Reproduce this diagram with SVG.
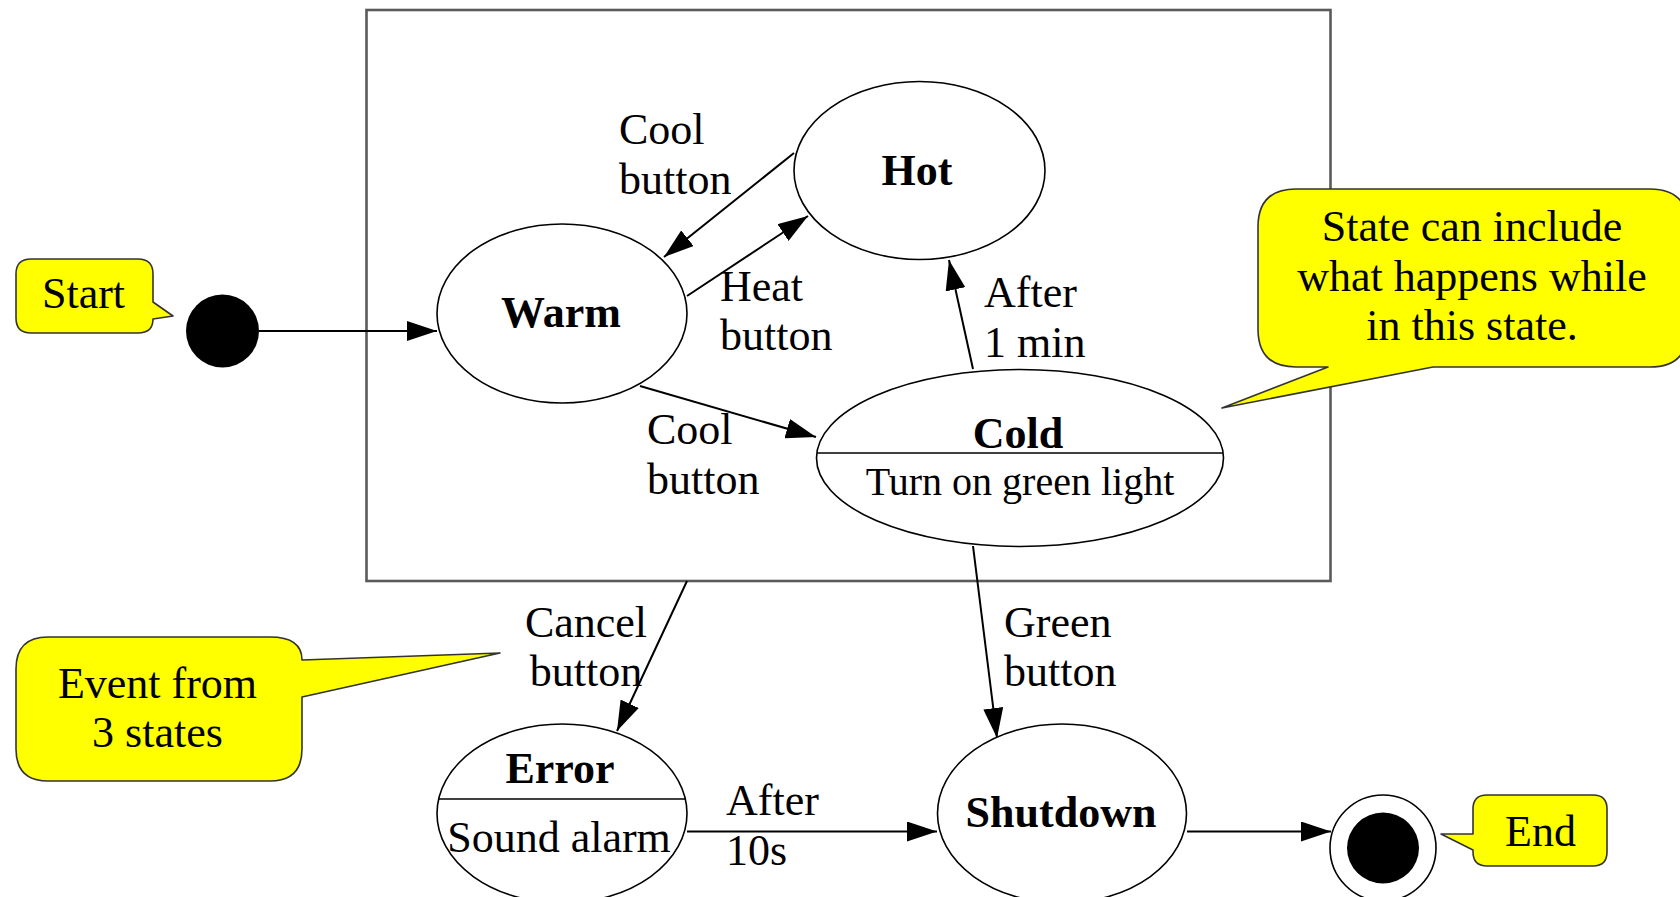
<svg xmlns="http://www.w3.org/2000/svg" width="1680" height="897" viewBox="0 0 1680 897">
  <style>
    .state { fill: #ffffff; stroke: #000000; stroke-width: 1.6; }
    .divider { stroke: #000000; stroke-width: 1.6; }
    .name { font-family: "Liberation Serif", "Times New Roman", serif; font-size: 44px; font-weight: bold; fill: #000000; text-anchor: middle; }
    .activity { font-family: "Liberation Serif", "Times New Roman", serif; font-size: 40px; fill: #000000; text-anchor: middle; }
    .label { font-family: "Liberation Serif", "Times New Roman", serif; font-size: 44px; fill: #000000; }
    .note { fill: #ffff00; stroke: #333333; stroke-width: 1.6; stroke-linejoin: round; }
    .note-text { font-family: "Liberation Serif", "Times New Roman", serif; font-size: 44px; fill: #000000; text-anchor: middle; }
    .edge { fill: none; stroke: #000000; stroke-width: 2; marker-end: url(#arrow); }
  </style>
  <defs>
    <marker id="arrow" markerUnits="userSpaceOnUse" markerWidth="30" markerHeight="20" refX="30" refY="10" orient="auto">
      <path d="M0,0 L30,10 L0,20 Z" fill="#000000"/>
    </marker>
  </defs>

  <rect width="1680" height="897" fill="#ffffff"/>

  <!-- composite state frame -->
  <g id="frame">
    <rect x="366.5" y="10" width="964" height="571" fill="none" stroke="#5a5a5a" stroke-width="2.6"/>
  </g>

  <!-- transitions -->
  <g id="connectors">
    <line class="edge" x1="259" y1="331" x2="437" y2="331"/>
    <line class="edge" x1="794" y1="153" x2="664" y2="257"/>
    <line class="edge" x1="687" y1="296" x2="808" y2="216"/>
    <line class="edge" x1="973" y1="369" x2="949" y2="260"/>
    <line class="edge" x1="640" y1="386" x2="816" y2="437"/>
    <line class="edge" x1="687" y1="581" x2="617" y2="731"/>
    <line class="edge" x1="973" y1="546" x2="997" y2="738"/>
    <line class="edge" x1="687" y1="831.5" x2="937" y2="831.5"/>
    <line class="edge" x1="1187" y1="831.5" x2="1331" y2="831.5"/>

    <text class="label" x="619" y="144">Cool</text>
    <text class="label" x="619" y="194">button</text>
    <text class="label" x="720" y="301">Heat</text>
    <text class="label" x="720" y="350">button</text>
    <text class="label" x="984" y="307">After</text>
    <text class="label" x="984" y="357">1 min</text>
    <text class="label" x="647" y="444">Cool</text>
    <text class="label" x="647" y="494">button</text>
    <text class="label" x="586" y="637" text-anchor="middle">Cancel</text>
    <text class="label" x="586" y="686" text-anchor="middle">button</text>
    <text class="label" x="1004" y="637">Green</text>
    <text class="label" x="1004" y="686">button</text>
    <text class="label" x="726" y="815">After</text>
    <text class="label" x="726" y="865">10s</text>
  </g>

  <!-- initial pseudo-state -->
  <g id="start">
    <circle cx="222.5" cy="331" r="36.5" fill="#000000"/>
  </g>

  <g id="warm">
    <ellipse class="state" cx="562" cy="313.5" rx="125" ry="89.5"/>
    <text class="name" x="561" y="327">Warm</text>
  </g>

  <g id="hot">
    <ellipse class="state" cx="919.5" cy="170.5" rx="125.5" ry="89"/>
    <text class="name" x="917" y="185">Hot</text>
  </g>

  <g id="cold">
    <ellipse class="state" cx="1020" cy="458" rx="203.5" ry="88.5"/>
    <line class="divider" x1="817" y1="453" x2="1223" y2="453"/>
    <text class="name" x="1018" y="448">Cold</text>
    <text class="activity" x="1020" y="495">Turn on green light</text>
  </g>

  <g id="error">
    <ellipse class="state" cx="562" cy="813.5" rx="125" ry="89.5"/>
    <line class="divider" x1="438" y1="799" x2="686" y2="799"/>
    <text class="name" x="560" y="783">Error</text>
    <text class="activity" x="559" y="852" style="font-size:44px">Sound alarm</text>
  </g>

  <g id="shutdown">
    <ellipse class="state" cx="1062" cy="813.5" rx="124.5" ry="89.5"/>
    <text class="name" x="1061" y="827">Shutdown</text>
  </g>

  <!-- final pseudo-state -->
  <g id="end">
    <ellipse class="state" cx="1383" cy="848" rx="53" ry="53"/>
    <ellipse cx="1383" cy="848" rx="36" ry="35.5" fill="#000000"/>
  </g>

  <!-- callouts -->
  <g id="note-start">
    <path class="note" d="M31,259 H138 Q153,259 153,274 V302 L173,316 L153,319 Q153,333 138,333 H31 Q16,333 16,318 V274 Q16,259 31,259 Z"/>
    <text class="note-text" x="83.5" y="308">Start</text>
  </g>

  <g id="note-state">
    <path class="note" d="M1296,189 H1650 Q1688,189 1688,227 V329 Q1688,367 1650,367 H1433 L1222,408 L1328,367 H1296 Q1258,367 1258,329 V227 Q1258,189 1296,189 Z"/>
    <text class="note-text" x="1472" y="241">State can include</text>
    <text class="note-text" x="1472" y="291">what happens while</text>
    <text class="note-text" x="1472" y="340">in this state.</text>
  </g>

  <g id="note-event">
    <path class="note" d="M48,637 H270 Q302,637 302,660 L500,653 L302,697 V749 Q302,781 270,781 H48 Q16,781 16,749 V669 Q16,637 48,637 Z"/>
    <text class="note-text" x="157.5" y="698">Event from</text>
    <text class="note-text" x="157.5" y="747">3 states</text>
  </g>

  <g id="note-end">
    <path class="note" d="M1487,795 H1593 Q1607,795 1607,809 V852 Q1607,866 1593,866 H1487 Q1473,866 1473,852 V850 L1441,834 H1473 V809 Q1473,795 1487,795 Z"/>
    <text class="note-text" x="1540.5" y="846">End</text>
  </g>
</svg>
